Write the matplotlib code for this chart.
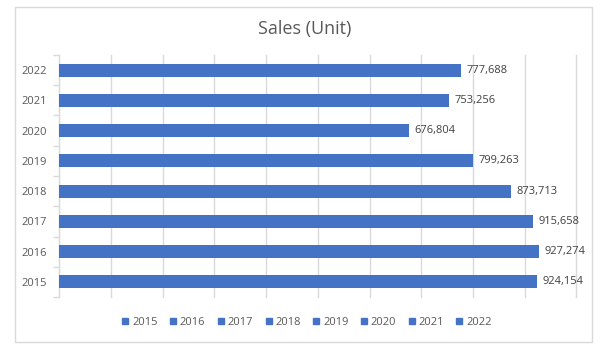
import matplotlib.pyplot as plt
from matplotlib.patches import Rectangle
from matplotlib.lines import Line2D
from matplotlib.ticker import MultipleLocator

# Data
years = ["2015", "2016", "2017", "2018", "2019", "2020", "2021", "2022"]
sales = [924154, 927274, 915658, 873713, 799263, 676804, 753256, 777688]

BAR_COLOR = "#4472C4"
TEXT_COLOR = "#595959"
GRID_COLOR = "#D9D9D9"

plt.rcParams["font.family"] = ["Open Sans", "DejaVu Sans"]

fig = plt.figure(figsize=(6.09, 3.57), dpi=100)
ax = fig.add_axes([0.0975, 0.168, 0.849, 0.678])

# chart area border
fig.patches.append(Rectangle((0.025, 0.042), 0.947, 0.938, transform=fig.transFigure,
                             fill=False, edgecolor=GRID_COLOR, linewidth=1.0))

ypos = range(len(years))
ax.barh(ypos, sales, height=0.43, color=BAR_COLOR, zorder=3)

for y, v in zip(ypos, sales):
    ax.annotate(f"{v:,}", (v, y), xytext=(4, 0), textcoords="offset points",
                va="center", ha="left", fontsize=8, color="#404040")

ax.set_xlim(0, 1000000)
ax.set_ylim(-0.5, len(years) - 0.5)
ax.xaxis.set_major_locator(MultipleLocator(100000))
ax.grid(axis="x", color=GRID_COLOR, linewidth=1.0, zorder=0)
for gl in ax.get_xgridlines():
    gl.set_clip_on(False)
ax.set_xticklabels([])
ax.tick_params(axis="x", length=0)

ax.set_yticks(list(ypos))
ax.set_yticklabels(years, fontsize=8, color=TEXT_COLOR)
ax.set_yticks([y + 0.5 for y in range(-1, len(years))], minor=True)
ax.tick_params(axis="y", which="major", length=0, pad=9)
ax.tick_params(axis="y", which="minor", length=4, color=GRID_COLOR, width=1.0)

for side in ["top", "right", "bottom"]:
    ax.spines[side].set_visible(False)
ax.spines["left"].set_color(GRID_COLOR)

fig.text(0.5, 0.92, "Sales (Unit)", ha="center", va="center", fontsize=13, color=TEXT_COLOR)

handles = [Line2D([0], [0], marker="s", linestyle="none", markersize=5,
                  markerfacecolor=BAR_COLOR, markeredgecolor=BAR_COLOR) for _ in years]
fig.legend(handles, years, loc="center", bbox_to_anchor=(0.502, 0.097), ncol=len(years),
           frameon=False, fontsize=8, labelcolor=TEXT_COLOR, handletextpad=0.1,
           columnspacing=0.9, handlelength=1.0)

fig.savefig("out.png", dpi=100)
